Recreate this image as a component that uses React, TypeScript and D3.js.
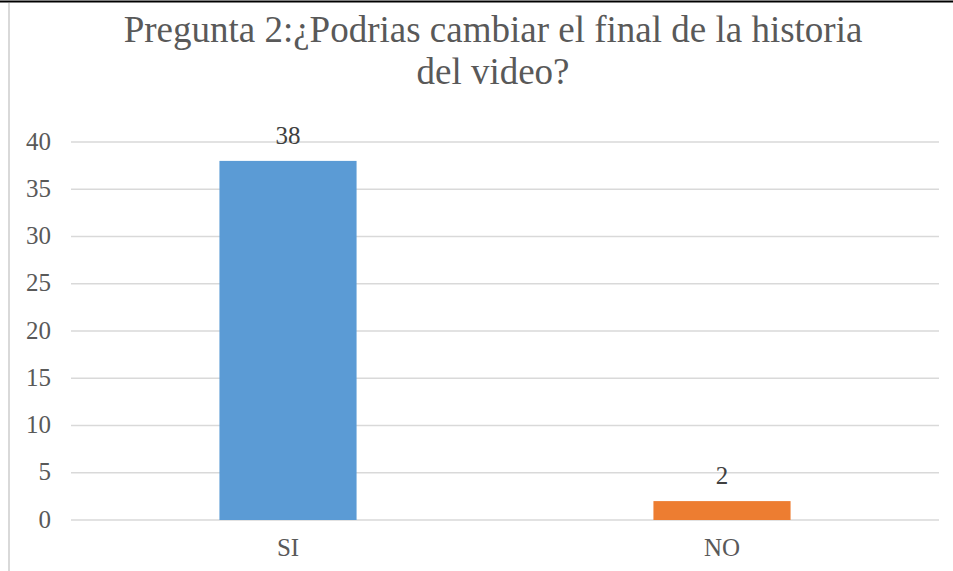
import React from "react";
import * as d3 from "d3";

const categories: string[] = ["SI", "NO"];
const values: number[] = [38, 2];
const colors: string[] = ["#5b9bd5", "#ed7d31"];
const yTicks: number[] = [0, 5, 10, 15, 20, 25, 30, 35, 40];
const titleLines: string[] = ["Pregunta 2:¿Podrias cambiar el final de la historia", "del video?"];

const W = 953;
const H = 571;
const left = 71;
const right = 939;
const top = 142;
const bottom = 520;

export default function App() {
  const x = d3
    .scaleBand<string>()
    .domain(categories)
    .range([left, right])
    .paddingInner(0.684)
    .paddingOuter(0.342);
  const y = d3.scaleLinear().domain([0, 40]).range([bottom, top]);
  const font = "'Liberation Serif', 'Times New Roman', serif";
  return (
    <svg
      width={W}
      height={H}
      style={{ position: "absolute", left: 0, top: 0, background: "#fff", fontFamily: font }}
    >
      <rect x={0} y={0} width={W} height={H} fill="#fff" />
      <line x1={0} x2={W} y1={1.5} y2={1.5} stroke="#000" strokeWidth={2} />
      <line x1={9} x2={9} y1={3} y2={H} stroke="#d9d9d9" strokeWidth={2} />
      {titleLines.map((t, i) => (
        <text
          key={i}
          x={493}
          y={42 + i * 42}
          textAnchor="middle"
          fontSize={37}
          fill="#595959"
          style={{ fontFamily: font }}
        >
          {t}
        </text>
      ))}
      {yTicks.map((t) => (
        <g key={t}>
          <line
            x1={left}
            x2={right}
            y1={y(t)}
            y2={y(t)}
            stroke="#d9d9d9"
            strokeWidth={1.5}
          />
          <text
            x={51}
            y={y(t) + 7.5}
            textAnchor="end"
            fontSize={25}
            fill="#595959"
            style={{ fontFamily: font }}
          >
            {t}
          </text>
        </g>
      ))}
      {categories.map((c, i) => (
        <g key={c}>
          <rect
            x={x(c)}
            y={y(values[i])}
            width={x.bandwidth()}
            height={y(0) - y(values[i])}
            fill={colors[i]}
          />
          <text
            x={(x(c) as number) + x.bandwidth() / 2}
            y={y(values[i]) - 17}
            textAnchor="middle"
            fontSize={25}
            fill="#404040"
            style={{ fontFamily: font }}
          >
            {values[i]}
          </text>
          <text
            x={(x(c) as number) + x.bandwidth() / 2}
            y={556}
            textAnchor="middle"
            fontSize={25}
            fill="#595959"
            style={{ fontFamily: font }}
          >
            {c}
          </text>
        </g>
      ))}
    </svg>
  );
}
